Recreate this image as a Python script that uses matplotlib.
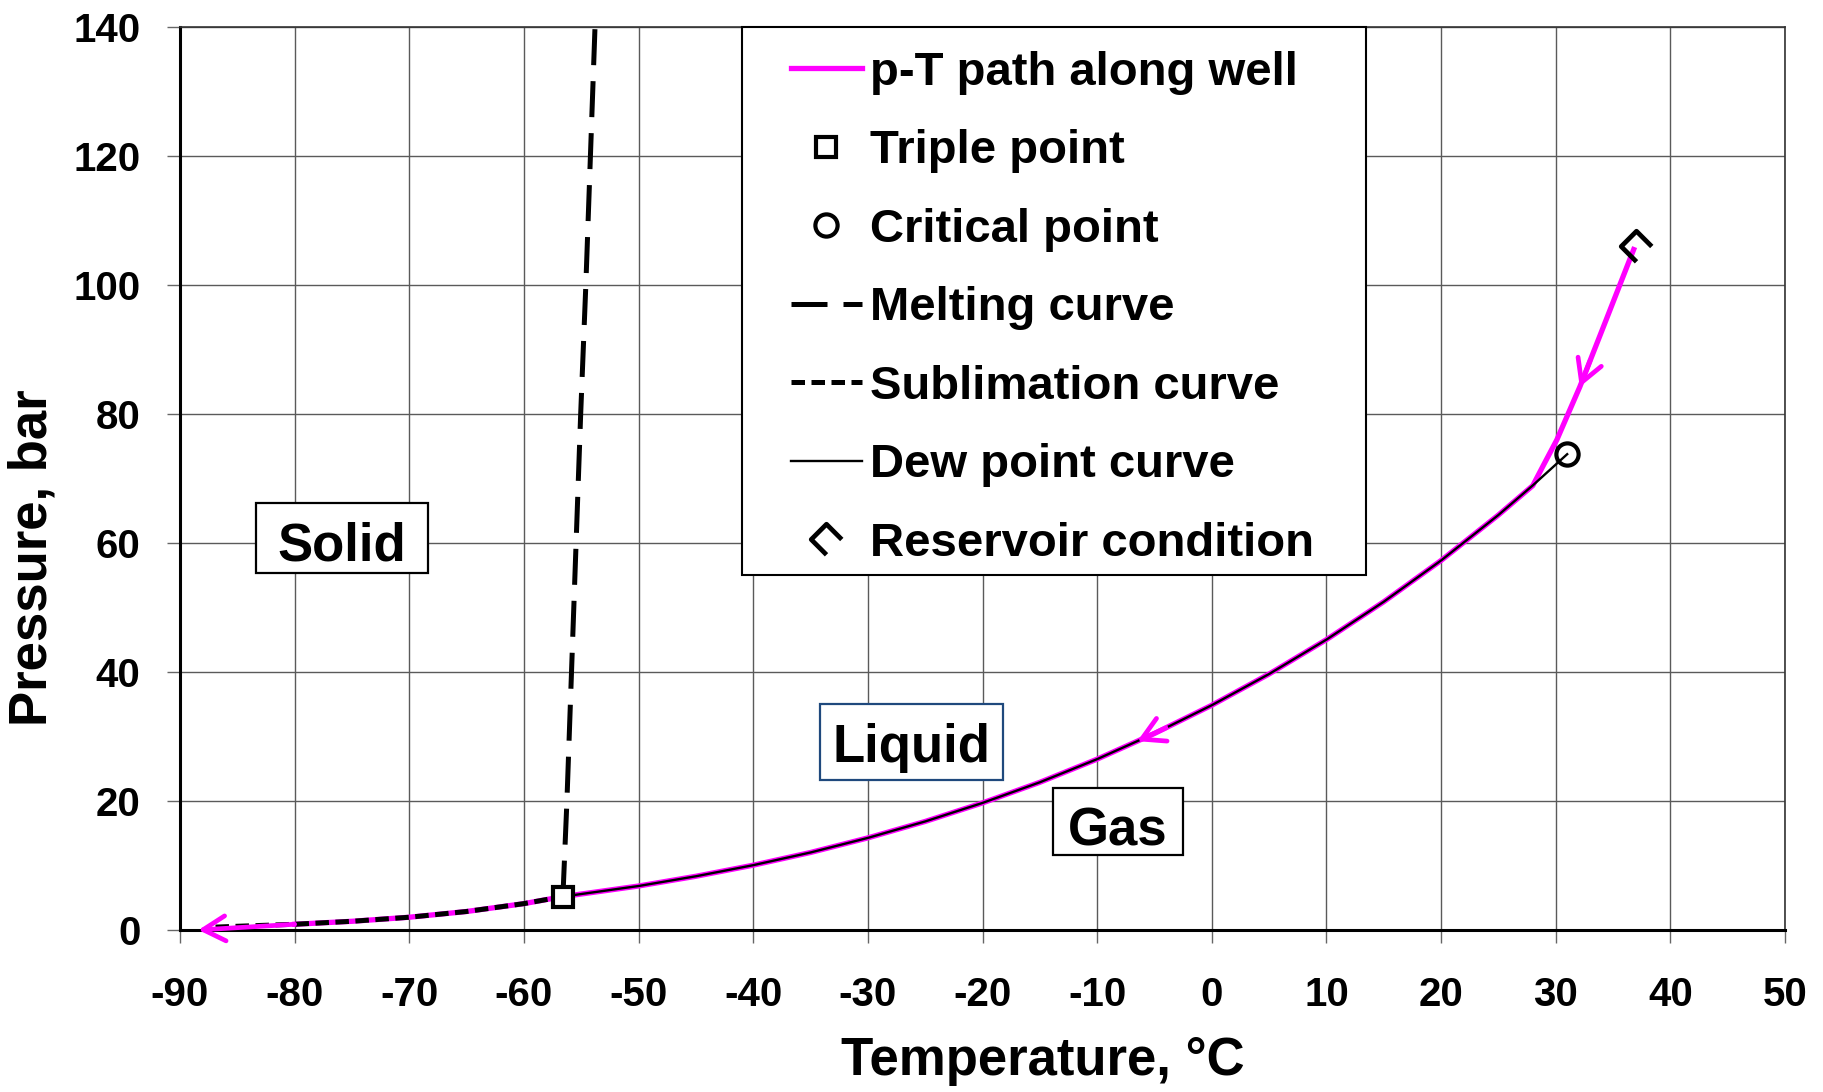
import numpy as np
import matplotlib
matplotlib.use('Agg')
from matplotlib import pyplot as plt
from matplotlib.path import Path
from matplotlib.patches import Rectangle

plt.rcParams['font.family'] = ['Liberation Sans', 'DejaVu Sans']
plt.rcParams['font.weight'] = 'bold'
plt.rcParams['axes.unicode_minus'] = False

# CO2 saturation (dew point) curve, triple point -> critical point
sat_T = [-56.6, -50, -45, -40, -35, -30, -25, -20, -15, -10, -5, 0, 5, 10, 15, 20, 25, 28, 31]
sat_p = [5.18, 6.82, 8.33, 10.05, 12.02, 14.28, 16.83, 19.70, 22.90, 26.49, 30.47, 34.85,
         39.69, 45.02, 50.89, 57.29, 64.34, 68.93, 73.77]

# sublimation curve below the triple point
subl_T = [-86.9, -85, -80, -75, -70, -65, -60, -56.6]
subl_p = [0.45, 0.58, 0.89, 1.35, 1.98, 2.87, 4.09, 5.18]

# melting curve above the triple point
melt_T = [-56.6, -56.25, -55.85, -55.45, -55.05, -54.6, -54.2, -53.8]
melt_p = [5.18, 20, 40, 60, 80, 100, 120, 140]

# well path from the reservoir until it meets the dew point curve
well_T = [36.8, 34.4, 32.1, 30.1, 29.0, 28.0]
well_p = [105.5, 94.6, 84.2, 76.0, 72.3, 68.9]
outlet = (-88.4, 0.0)

triple = (-56.6, 5.18)
critical = (31.0, 73.8)
reservoir = (37.0, 106.0)

xticks = list(range(-90, 51, 10))
yticks = list(range(0, 141, 20))

# full p-T path: well segment, then down the dew curve, then the sublimation curve
path_T = list(well_T)
path_p = list(well_p)
for t, p in zip(sat_T[::-1], sat_p[::-1]):
    if t < well_T[-1]:
        path_T.append(t)
        path_p.append(p)
for t, p in zip(subl_T[::-1], subl_p[::-1]):
    if -80 <= t < triple[0]:
        path_T.append(t)
        path_p.append(p)

PINK = '#FF00FF'

fig = plt.figure(figsize=(18.23, 10.92), dpi=100)
ax = fig.add_axes([180 / 1823, 1 - 930 / 1092, 1605 / 1823, 903 / 1092])

ax.plot(path_T, path_p, color=PINK, lw=3.8, zorder=3, label='p-T path along well')
ax.plot(*triple, ls='none', marker='s', ms=15, mew=3.0, mec='black', mfc='white',
        zorder=6, label='Triple point')
ax.plot(*critical, ls='none', marker='o', ms=16, mew=3.0, mec='black', mfc='none',
        zorder=6, label='Critical point')
ax.plot(melt_T, melt_p, color='black', lw=3.6, dashes=(7.2, 3.2), zorder=4,
        label='Melting curve')
ax.plot(subl_T, subl_p, color='black', lw=3.6, dashes=(2.7, 1.3), zorder=4,
        label='Sublimation curve')
ax.plot(sat_T, sat_p, color='black', lw=1.7, zorder=4, label='Dew point curve')

# open diamond with the lower right edge left out
res_marker = Path([(1, 0), (0, 1), (-1, 0), (0, -1)],
                  [Path.MOVETO, Path.LINETO, Path.LINETO, Path.LINETO])
ax.plot(*reservoir, ls='none', marker=res_marker, ms=22, mew=3.4, mec='black',
        mfc='none', zorder=6, label='Reservoir condition')

# direction arrows along the path
arrow_kw = dict(arrowstyle='->,head_length=0.8,head_width=0.45', color=PINK, lw=3.4,
                mutation_scale=20, shrinkA=0, shrinkB=0)
seg_T = well_T[::-1]
seg_p = well_p[::-1]
for tail, tip in [(33.0, 32.1)]:
    ax.annotate('', xy=(tip, np.interp(tip, seg_T, seg_p)),
                xytext=(tail, np.interp(tail, seg_T, seg_p)), arrowprops=arrow_kw, zorder=5)
for tail, tip in [(-4.0, -6.5)]:
    ax.annotate('', xy=(tip, np.interp(tip, sat_T, sat_p)),
                xytext=(tail, np.interp(tail, sat_T, sat_p)), arrowprops=arrow_kw, zorder=5)
ax.annotate('', xy=outlet, xytext=(path_T[-1], path_p[-1]), arrowprops=arrow_kw, zorder=5)

# phase region labels
regions = [
    ('Solid', -83.37, 55.35, 14.98, 10.9, -75.9, 57.36, 'black'),
    ('Liquid', -34.14, 23.26, 15.9, 11.78, -26.2, 26.09, '#1F497D'),
    ('Gas', -13.85, 11.63, 11.34, 10.37, -8.2, 13.07, 'black'),
]
for name, x0, y0, w, h, tx, ty, ec in regions:
    ax.add_patch(Rectangle((x0, y0), w, h, facecolor='white', edgecolor=ec, lw=1.6, zorder=3))
    ax.text(tx, ty, name, ha='center', va='baseline', fontsize=38, fontweight='bold', zorder=4)

ax.set_xlim(-90, 50)
ax.set_ylim(0, 140)
ax.set_xticks(xticks)
ax.set_yticks(yticks)
ax.grid(True, color='#5a5a5a', lw=1.0, zorder=0)
ax.set_axisbelow(True)
ax.tick_params(axis='both', direction='out', length=9.4, width=1.0, color='#666666',
               labelsize=29)
ax.tick_params(axis='x', pad=24)
ax.tick_params(axis='y', pad=19)
for lab in ax.get_xticklabels() + ax.get_yticklabels():
    lab.set_fontweight('bold')
for side in ['left', 'bottom']:
    ax.spines[side].set_linewidth(2.2)
for side in ['top', 'right']:
    ax.spines[side].set_linewidth(1.2)
    ax.spines[side].set_color('#333333')

ax.set_xlabel('Temperature, °C', fontsize=38, fontweight='bold', va='center')
ax.xaxis.set_label_coords(0.5377, -0.145)
ax.set_ylabel('Pressure, bar', fontsize=38, fontweight='bold', va='center', ha='center')
ax.yaxis.set_label_coords(-0.0916, 0.412)

# legend box drawn separately so the padding can differ on each side
ax.add_patch(Rectangle((0.3502, 0.393), 0.3888, 0.607, transform=ax.transAxes,
                       facecolor='white', edgecolor='black', lw=1.5, zorder=7, clip_on=False))
leg = ax.legend(loc='upper left', bbox_to_anchor=(0.3807, 0.9735), borderaxespad=0,
                frameon=False, borderpad=0, handlelength=1.5, handletextpad=0.17,
                labelspacing=0.73, prop={'weight': 'bold', 'size': 34})
leg.set_zorder(8)

fig.savefig('out.png', dpi=100)
